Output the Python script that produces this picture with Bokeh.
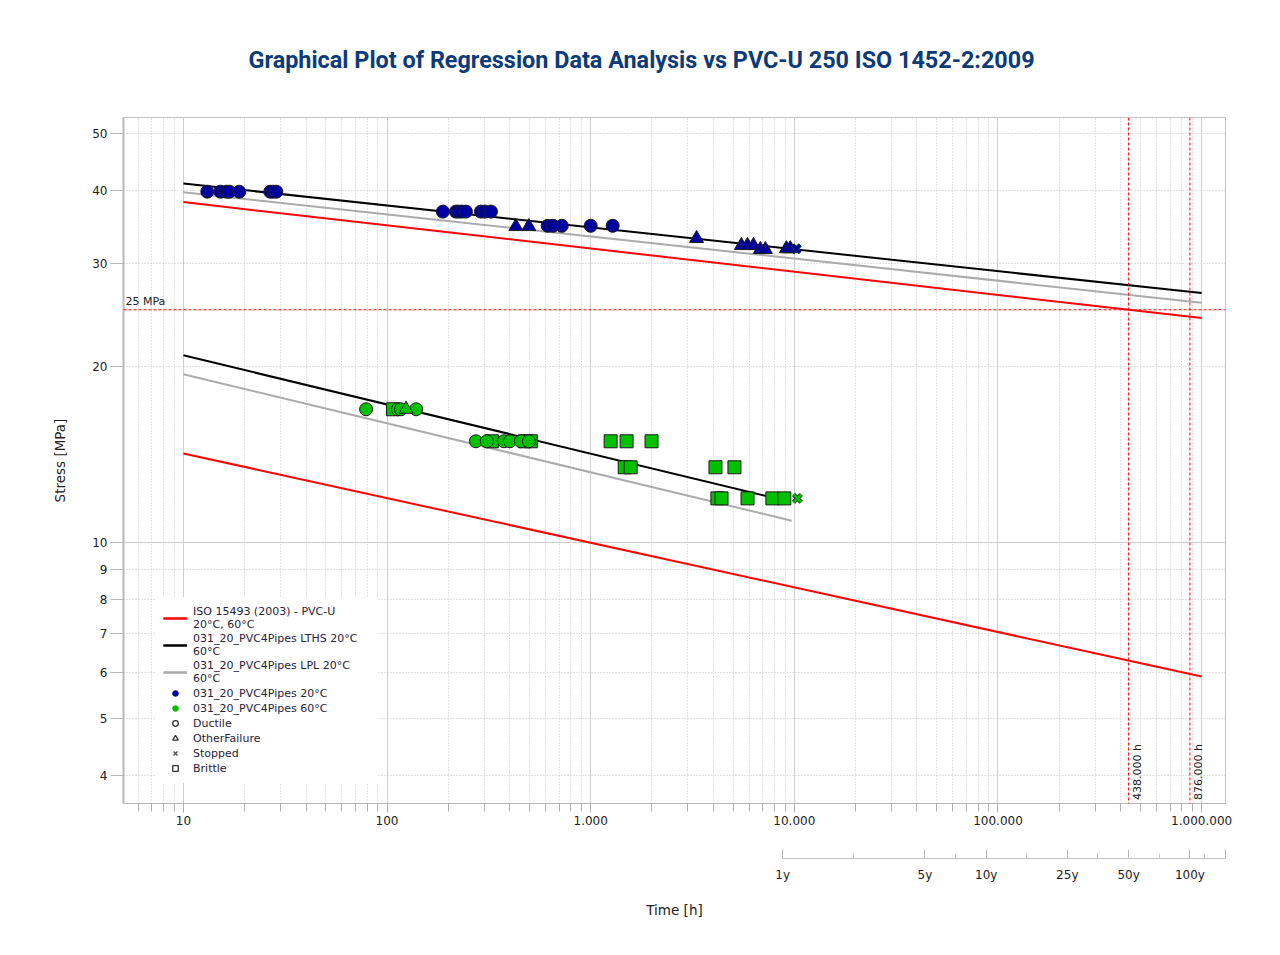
from bokeh.plotting import figure
from bokeh.models import (Range1d, LogAxis, FixedTicker, Span, Label, Legend,
                          LegendItem, Title)
from bokeh.embed import file_html
from bokeh.resources import INLINE

NAN = float("nan")

# ---------------- data ----------------
# regression / reference lines (hours, stress MPa)
line_hours = [10, 1000000]
iso_20 = [38.2, 24.2]
iso_60 = [14.2, 5.9]
lths_20 = [41.1, 26.7]
lpl_20 = [39.7, 25.7]
lths_hours_60 = [10, 9000]
lths_60 = [20.9, 11.8]
lpl_hours_60 = [10, 9700]
lpl_60 = [19.4, 10.9]

# test points 20 C
hours_20 = [13.1, 15.2, 16.3, 16.8, 18.8, 26.7, 27.6, 28.6,
            188, 218, 225, 233, 244, 289, 302, 324,
            429, 497,
            615, 652, 721, 1000, 1282,
            3311,
            5495, 5884, 6300, 6810, 7210, 9140, 9550,
            10230]
stress_20 = [39.8, 39.8, 39.8, 39.8, 39.8, 39.8, 39.8, 39.8,
             36.8, 36.8, 36.8, 36.8, 36.8, 36.8, 36.8, 36.8,
             34.7, 34.7,
             34.8, 34.8, 34.8, 34.8, 34.8,
             33.1,
             32.2, 32.2, 32.2, 31.7, 31.7, 31.8, 31.8,
             31.8]
mode_20 = ["Ductile"] * 16 + ["OtherFailure"] * 2 + ["Ductile"] * 5 + \
          ["OtherFailure"] * 8 + ["Stopped"]

# test points 60 C
hours_60 = [78.9, 107, 113, 117, 124, 139,
            273, 309, 327, 375, 401, 454, 475, 497, 508,
            1253, 1501, 1990,
            1469, 1571, 4100, 5080,
            4190, 4390, 5890, 7800, 8930,
            10350]
stress_60 = [16.9, 16.9, 16.9, 16.9, 16.9, 16.9,
             14.9, 14.9, 14.9, 14.9, 14.9, 14.9, 14.9, 14.9, 14.9,
             14.9, 14.9, 14.9,
             13.45, 13.45, 13.45, 13.45,
             11.9, 11.9, 11.9, 11.9, 11.9,
             11.9]
mode_60 = ["Ductile", "Brittle", "Ductile", "Ductile", "OtherFailure", "Ductile",
           "Ductile", "Ductile", "Brittle", "Ductile", "Ductile", "Ductile",
           "Brittle", "Ductile", "Brittle",
           "Brittle", "Brittle", "Brittle",
           "Brittle", "Brittle", "Brittle", "Brittle",
           "Brittle", "Brittle", "Brittle", "Brittle", "Brittle",
           "Stopped"]

x_major_ticks = [10, 100, 1000, 10000, 100000, 1000000]
x_major_labels = ["10", "100", "1.000", "10.000", "100.000", "1.000.000"]
y_ticks = [4, 5, 6, 7, 8, 9, 10, 20, 30, 40, 50]
year_ticks = [8760, 43800, 87600, 219000, 438000, 876000, 1310000]
year_labels = ["1y", "5y", "10y", "25y", "50y", "100y", ""]
year_minor_ticks = [19588, 61941, 138506, 309713, 619426, 1034000]
ref_stress = 25
ref_hours = [438000, 876000]
ref_hour_labels = ["438.000 h", "876.000 h"]

# ---------------- styling ----------------
BLUE = "#0000a0"
GREEN = "#00c000"
RED = "#ff0000"
GREY_LINE = "#ababab"
TXT = "#222222"
FONT = "DejaVu Sans"

p = figure(width=1272, height=947, x_axis_type="log", y_axis_type="log",
           x_range=Range1d(5.08, 1.31e6), y_range=Range1d(3.58, 53.3),
           output_backend="svg", toolbar_location=None,
           min_border_left=123, min_border_right=47,
           min_border_top=117, min_border_bottom=144,
           background_fill_color="white", border_fill_color="white")
p.outline_line_color = "#c4c4c4"

p.title.text = "Graphical Plot of Regression Data Analysis vs PVC-U 250 ISO 1452-2:2009"
p.title.text_font = "Roboto"
p.title.text_font_style = "bold"
p.title.text_font_size = "23.4px"
p.title.text_color = "#0d3a78"
p.title.align = "left"
p.title.offset = 125
p.title.standoff = 87

# main x axis
xa = p.below[0]
xa.ticker = FixedTicker(ticks=x_major_ticks,
                        minor_ticks=[6, 7, 8, 9] + [m * 10 ** e for e in range(1, 6) for m in range(2, 10)])
xa.major_label_overrides = dict(zip(x_major_ticks, x_major_labels))
xa.major_label_text_font = FONT
xa.major_label_text_font_size = "12px"
xa.major_label_text_color = TXT
xa.major_tick_in = 0
xa.major_tick_out = 9
xa.minor_tick_in = 0
xa.minor_tick_out = 8
xa.major_tick_line_color = "#b0b0b0"
xa.minor_tick_line_color = "#b0b0b0"
xa.axis_line_color = "#b8b8b8"
xa.major_label_standoff = 3
xa.axis_label = " "
xa.axis_label_text_font_size = "12px"
xa.axis_label_standoff = 14

# y axis
ya = p.left[0]
ya.ticker = FixedTicker(ticks=y_ticks, minor_ticks=[])
ya.major_label_overrides = {t: str(t) for t in y_ticks}
ya.major_label_text_font = FONT
ya.major_label_text_font_size = "12px"
ya.major_label_text_color = TXT
ya.major_tick_in = 0
ya.major_tick_out = 13
ya.major_tick_line_color = "#b8b8b8"
ya.axis_line_color = "#b8b8b8"
ya.axis_line_width = 2
ya.major_label_standoff = 3
ya.axis_label = "Stress [MPa]"
ya.axis_label_text_font = FONT
ya.axis_label_text_font_size = "13.5px"
ya.axis_label_text_font_style = "normal"
ya.axis_label_text_color = TXT
ya.axis_label_standoff = 21

# grids
p.xgrid.grid_line_color = "#d0d0d0"
p.xgrid.minor_grid_line_color = "#c8c8c8"
p.xgrid.minor_grid_line_dash = "1 2"
p.ygrid.grid_line_color = "#c4c4c4"
p.ygrid.grid_line_dash = "1 2"
p.add_layout(Span(location=10, dimension="width", line_color="#cccccc", line_width=1, level="underlay"))

# years axis
yrs = LogAxis(bounds=(8760, 1310000),
              ticker=FixedTicker(ticks=year_ticks, minor_ticks=year_minor_ticks))
yrs.major_label_overrides = dict(zip(year_ticks, year_labels))
yrs.major_label_text_font = FONT
yrs.major_label_text_font_size = "12px"
yrs.major_label_text_color = TXT
yrs.major_tick_in = 9
yrs.major_tick_out = 0
yrs.minor_tick_in = 5
yrs.minor_tick_out = 0
yrs.axis_line_color = "#c0c0c0"
yrs.major_tick_line_color = "#b8b8b8"
yrs.minor_tick_line_color = "#c8c8c8"
yrs.major_label_standoff = 9
p.add_layout(yrs, "below")

p.add_layout(Title(text="Time [h]", align="center", text_font=FONT,
                   text_font_size="13.5px", text_font_style="normal",
                   text_color=TXT, standoff=31), "below")

# reference lines
p.add_layout(Span(location=ref_stress, dimension="width", line_color=RED,
                  line_dash="3 2", line_width=1))
for h in ref_hours:
    p.add_layout(Span(location=h, dimension="height", line_color=RED,
                      line_dash="3 2", line_width=1))
p.add_layout(Label(x=5.08, y=ref_stress, x_offset=2, y_offset=2,
                   text=f"{ref_stress} MPa", text_font=FONT, text_font_size="11px",
                   text_color=TXT, text_baseline="bottom"))
for h, lab in zip(ref_hours, ref_hour_labels):
    p.add_layout(Label(x=h, y=3.63, x_offset=2, angle=1.5708,
                       text=lab, text_font=FONT, text_font_size="11px",
                       text_color=TXT, text_baseline="top", text_align="left"))

# lines
r_iso20 = p.line(line_hours, iso_20, line_color=RED, line_width=2)
r_iso60 = p.line(line_hours, iso_60, line_color=RED, line_width=2)
r_lpl20 = p.line(line_hours, lpl_20, line_color=GREY_LINE, line_width=2)
r_lpl60 = p.line(lpl_hours_60, lpl_60, line_color=GREY_LINE, line_width=2)
r_lths20 = p.line(line_hours, lths_20, line_color="black", line_width=2)
r_lths60 = p.line(lths_hours_60, lths_60, line_color="black", line_width=2)

MARK = {"Ductile": ("circle", 13), "OtherFailure": ("triangle", 14),
        "Brittle": ("square", 13), "Stopped": ("x", 11)}


def draw_points(hours, stress, modes, color):
    for mode in ["Brittle", "Ductile", "OtherFailure", "Stopped"]:
        xs = [h for h, m in zip(hours, modes) if m == mode]
        ys = [s for s, m in zip(stress, modes) if m == mode]
        if not xs:
            continue
        marker, size = MARK[mode]
        if mode == "Stopped":
            p.scatter(xs, ys, marker="x", size=size, line_color="#1a3a1a", line_width=4.5)
            p.scatter(xs, ys, marker="x", size=size, line_color=color, line_width=2.5)
        else:
            p.scatter(xs, ys, marker=marker, size=size, fill_color=color,
                      line_color="#1c1c1c", line_width=1)


draw_points(hours_20, stress_20, mode_20, BLUE)
draw_points(hours_60, stress_60, mode_60, GREEN)

# legend-only renderers (not drawn in the plot area)
d_blue = p.scatter([NAN], [NAN], marker="circle", fill_color=BLUE, line_color=BLUE)
d_green = p.scatter([NAN], [NAN], marker="circle", fill_color=GREEN, line_color=GREEN)
d_duct = p.scatter([NAN], [NAN], marker="circle", fill_color="white", line_color="#333333", line_width=1.3)
d_other = p.scatter([NAN], [NAN], marker="triangle", fill_color="white", line_color="#333333", line_width=1.3)
d_stop = p.scatter([NAN], [NAN], marker="x", line_color="#555555", line_width=1.5)
d_brit = p.scatter([NAN], [NAN], marker="square", fill_color="white", line_color="#333333", line_width=1.3)

legend = Legend(items=[
    LegendItem(label="ISO 15493 (2003) - PVC-U\n20°C, 60°C", renderers=[r_iso20, r_iso60]),
    LegendItem(label="031_20_PVC4Pipes LTHS 20°C\n60°C", renderers=[r_lths20, r_lths60]),
    LegendItem(label="031_20_PVC4Pipes LPL 20°C\n60°C", renderers=[r_lpl20, r_lpl60]),
    LegendItem(label="031_20_PVC4Pipes 20°C", renderers=[d_blue]),
    LegendItem(label="031_20_PVC4Pipes 60°C", renderers=[d_green]),
    LegendItem(label="Ductile", renderers=[d_duct]),
    LegendItem(label="OtherFailure", renderers=[d_other]),
    LegendItem(label="Stopped", renderers=[d_stop]),
    LegendItem(label="Brittle", renderers=[d_brit]),
], location=(32, 20))
legend.label_text_font = FONT
legend.label_text_font_size = "11px"
legend.label_text_color = "#2a2238"
legend.glyph_width = 24
legend.glyph_height = 14
legend.label_height = 14
legend.label_width = 177
legend.label_standoff = 6
legend.spacing = 1
legend.padding = 8
legend.margin = 0
legend.border_line_alpha = 0
legend.background_fill_color = "white"
legend.background_fill_alpha = 1
p.add_layout(legend)

open("out.html", "w").write(file_html(p, INLINE))
